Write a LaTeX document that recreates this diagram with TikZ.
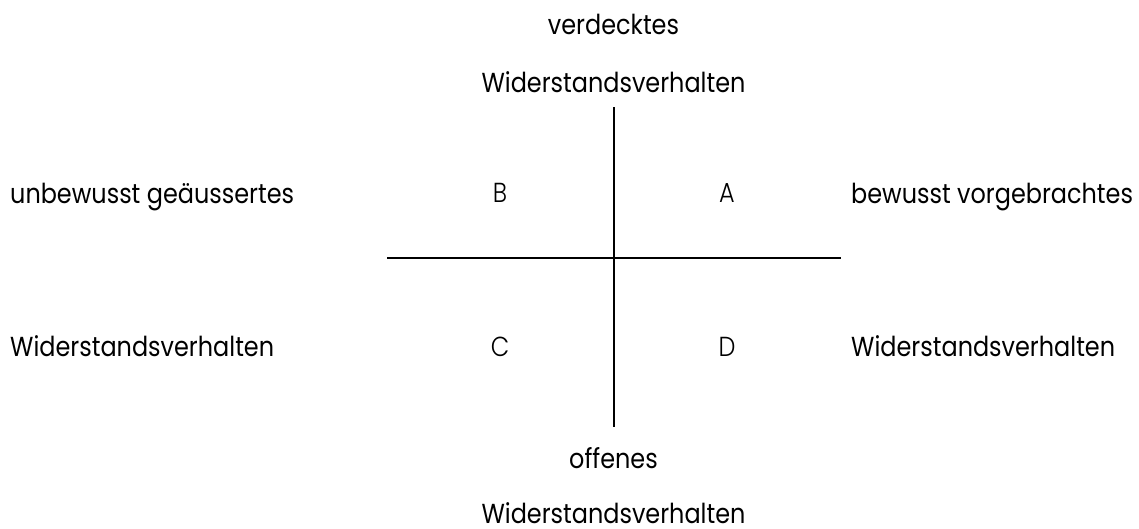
\documentclass[tikz,border=0pt]{standalone}
\usepackage{fontspec}
\setmainfont{Poppins}[FakeStretch=0.87]
\newfontfamily\lightfont{Poppins Light}[FakeStretch=0.87]
\begin{document}
\begin{tikzpicture}[x=1pt,y=-1pt,
  lbl/.style={inner sep=0pt,font=\fontsize{27.5}{30}\selectfont},
  quad/.style={inner sep=0pt,font=\lightfont\fontsize{27.5}{30}\selectfont},
  axis/.style={line width=2pt}]
\useasboundingbox[fill=white] (0,0) rectangle (1139,528);
% axis end points
\coordinate (top) at (613.5,107);
\coordinate (bot) at (613.5,427);
\coordinate (lft) at (387,258);
\coordinate (rgt) at (841,258);
\draw[axis] (top) -- (bot);
\draw[axis] (lft) -- (rgt);
% top / bottom labels
\node[lbl,anchor=base] (t1) at (613.5,34) {verdecktes};
\node[lbl,anchor=base] (t2) at (613.5,92) {Widerstandsverhalten};
\node[lbl,anchor=base] (b1) at (613.5,468) {offenes};
\node[lbl,anchor=base] (b2) at (613.5,523) {Widerstandsverhalten};
% left labels
\node[lbl,anchor=base west] (l1) at (10,203) {unbewusst geäussertes};
\node[lbl,anchor=base west] (l2) at (10,356) {Widerstandsverhalten};
% right labels
\node[lbl,anchor=base west] (r1) at (851,203) {bewusst vorgebrachtes};
\node[lbl,anchor=base west] (r2) at (851,356) {Widerstandsverhalten};
% quadrant letters
\node[quad,anchor=base] (qB) at (500,202) {B};
\node[quad,anchor=base] (qA) at (727,202) {A};
\node[quad,anchor=base] (qC) at (500,356) {C};
\node[quad,anchor=base] (qD) at (727,356) {D};
\end{tikzpicture}
\end{document}
